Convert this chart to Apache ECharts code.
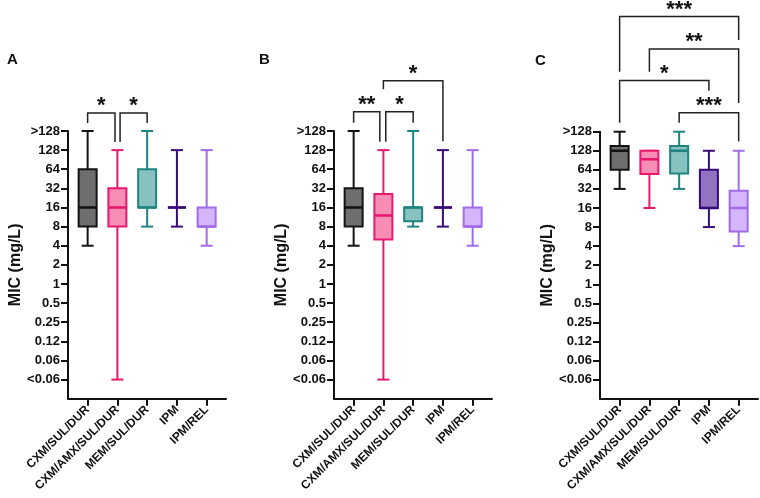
<!DOCTYPE html>
<html>
<head>
<meta charset="utf-8">
<script src="https://cdn.jsdelivr.net/npm/echarts@6/dist/echarts.min.js"></script>
<style>
  html, body { margin: 0; padding: 0; background: #fff; }
  #chart { width: 760px; height: 498px; }
</style>
</head>
<body>
<div id="chart"></div>
<script>
// categories and tick labels
const categories = ['CXM/SUL/DUR', 'CXM/AMX/SUL/DUR', 'MEM/SUL/DUR', 'IPM', 'IPM/REL'];
const tickLabels = ['<0.06', '0.06', '0.12', '0.25', '0.5', '1', '2', '4', '8', '16', '32', '64', '128', '>128'];

// MIC in mg/L, ">128" stored as 256 and "<0.06" as 1/32
const GT128 = 256;
const LT006 = 1 / 32;

// [min, Q1, median, Q3, max]
const panelA = [
  [4, 8, 16, 64, GT128],
  [LT006, 8, 16, 32, 128],
  [8, 16, 16, 64, GT128],
  [8, 16, 16, 16, 128],
  [4, 8, 8, 16, 128]
];
const panelB = [
  [4, 8, 16, 32, GT128],
  [LT006, 5, 12, 26, 128],
  [8, 9.7, 16, 16, GT128],
  [8, 16, 16, 16, 128],
  [4, 8, 8, 16, 128]
];
const panelC = [
  [32, 64, 128, 152, GT128],
  [16, 55, 94, 128, 128],
  [32, 56, 128, 152, GT128],
  [8, 16, 16, 64, 128],
  [4, 6.8, 16, 30, 128]
];

// significance comparisons: [group a, group b, label]
const sigA = [[0, 1, '*'], [1, 2, '*']];
const sigB = [[0, 1, '**'], [1, 2, '*'], [1, 3, '*']];
const sigC = [[0, 4, '***'], [1, 4, '**'], [0, 3, '*'], [2, 4, '***']];

// bracket layout (log2 units above the axis, small x nudges)
const layoutA = [
  { bar: 8.94, l: 8.42, r: 7.42, dl: 0, dr: -0.08 },
  { bar: 8.94, l: 7.42, r: 8.42, dl: 0.09, dr: 0 }
];
const layoutB = [
  { bar: 9.01, l: 8.43, r: 7.44, dl: 0, dr: -0.12 },
  { bar: 9.01, l: 7.44, r: 8.43, dl: 0.08, dr: 0 },
  { bar: 10.63, l: 10.18, r: 7.47, dl: 0, dr: 0 }
];
const layoutC = [
  { bar: 14.04, l: 11.15, r: 12.81, dl: 0, dr: 0 },
  { bar: 12.33, l: 11.15, r: 9.51, dl: 0, dr: 0 },
  { bar: 10.68, l: 8.47, r: 10.15, dl: 0, dr: 0 },
  { bar: 9.0, l: 8.47, r: 7.48, dl: 0, dr: 0 }
];

const strokeColors = ['#141414', '#e6196e', '#1f8580', '#3a0b78', '#a26be8'];
const fillColors = ['#6e6e6e', '#f78db4', '#88c2c0', '#9273c0', '#d6b6fb'];
const FONT = 'Liberation Sans, Arial, sans-serif';

const chart = echarts.init(document.getElementById('chart'));

function boxData(panel) {
  return panel.map((s, i) => [i].concat(s.map(v => Math.log2(v))));
}

function renderBox(params, api) {
  const idx = api.value(0);
  const lo = api.coord([idx, api.value(1)]);
  const q1 = api.coord([idx, api.value(2)]);
  const med = api.coord([idx, api.value(3)]);
  const q3 = api.coord([idx, api.value(4)]);
  const hi = api.coord([idx, api.value(5)]);
  const cx = med[0];
  const hw = 9, cw = 6;
  const stroke = strokeColors[idx];
  const line = (x1, y1, x2, y2, w) => ({
    type: 'line',
    shape: { x1, y1, x2, y2 },
    style: { stroke, lineWidth: w || 2 }
  });
  return {
    type: 'group',
    children: [
      line(cx, hi[1], cx, q3[1]),
      line(cx - cw, hi[1], cx + cw, hi[1]),
      line(cx, q1[1], cx, lo[1]),
      line(cx - cw, lo[1], cx + cw, lo[1]),
      {
        type: 'rect',
        shape: { x: cx - hw, y: q3[1], width: hw * 2, height: q1[1] - q3[1] },
        style: { fill: fillColors[idx], stroke, lineWidth: 2 }
      },
      line(cx - hw, med[1], cx + hw, med[1], 2.6)
    ]
  };
}

function bracketSeries(gridIdx, sig, layout) {
  return {
    type: 'custom',
    xAxisIndex: gridIdx,
    yAxisIndex: gridIdx,
    clip: false,
    silent: true,
    data: sig.map((s, i) => [s[0] + layout[i].dl, s[1] + layout[i].dr, layout[i].l, layout[i].r, layout[i].bar]),
    renderItem(params, api) {
      const a = api.coord([api.value(0), api.value(4)]);
      const b = api.coord([api.value(1), api.value(4)]);
      const la = api.coord([api.value(0), api.value(2)]);
      const rb = api.coord([api.value(1), api.value(3)]);
      return {
        type: 'group',
        children: [
          {
            type: 'polyline',
            shape: { points: [la, a, b, rb] },
            style: { stroke: '#222', lineWidth: 1.5, fill: null }
          },
          {
            type: 'text',
            style: {
              text: sig[params.dataIndex][2],
              x: (a[0] + b[0]) / 2,
              y: a[1] + 4,
              align: 'center',
              verticalAlign: 'bottom',
              font: 'bold 22px ' + FONT,
              fill: '#111'
            }
          }
        ]
      };
    }
  };
}

const lefts = [68, 334, 600];
const tops = [131, 131, 131.7];
const panels = [panelA, panelB, panelC];
const sigs = [sigA, sigB, sigC];
const layouts = [layoutA, layoutB, layoutC];
const letters = ['A', 'B', 'C'];
const letterPos = [[2, 47], [254, 47], [530, 48]];

const yTicks = tickLabels.map((t, i) => i - 5);

chart.setOption({
  animation: false,
  backgroundColor: '#fff',
  title: letters.map((t, i) => ({
    text: t,
    left: letterPos[i][0],
    top: letterPos[i][1],
    textStyle: { fontFamily: FONT, fontWeight: 'bold', fontSize: 15, color: '#111' }
  })),
  grid: lefts.map((l, i) => ({ left: l, top: tops[i], width: 158, bottom: 498 - 398.7 })),
  xAxis: lefts.map((l, i) => ({
    type: 'value',
    gridIndex: i,
    min: -0.66,
    max: 4.65,
    splitLine: { show: false },
    axisLine: { onZero: false, lineStyle: { color: '#111', width: 2 } },
    axisTick: { length: 7, lineStyle: { color: '#111', width: 2 }, customValues: [0, 1, 2, 3, 4] },
    axisLabel: {
      customValues: [0, 1, 2, 3, 4],
      formatter: v => categories[Math.round(v)],
      rotate: 45,
      margin: 9,
      fontFamily: FONT,
      fontWeight: 'bold',
      fontSize: 12,
      color: '#111'
    }
  })),
  yAxis: lefts.map((l, i) => ({
    type: 'value',
    gridIndex: i,
    min: -6,
    max: 8,
    name: 'MIC (mg/L)',
    nameLocation: 'middle',
    nameRotate: 90,
    nameGap: 40,
    nameTextStyle: { fontFamily: FONT, fontWeight: 'bold', fontSize: 16, color: '#111' },
    splitLine: { show: false },
    axisLine: { show: true, onZero: false, lineStyle: { color: '#111', width: 2 } },
    axisTick: { show: true, length: 7, lineStyle: { color: '#111', width: 2 }, customValues: yTicks },
    axisLabel: {
      customValues: yTicks,
      formatter: v => tickLabels[Math.round(v) + 5],
      margin: 8,
      fontFamily: FONT,
      fontWeight: 'bold',
      fontSize: 13,
      color: '#111'
    }
  })),
  series: panels.map((p, i) => ({
    type: 'custom',
    xAxisIndex: i,
    yAxisIndex: i,
    clip: false,
    silent: true,
    encode: { x: 0, y: [1, 2, 3, 4, 5] },
    data: boxData(p),
    renderItem: renderBox
  })).concat(sigs.map((s, i) => bracketSeries(i, s, layouts[i])))
});
</script>
</body>
</html>
